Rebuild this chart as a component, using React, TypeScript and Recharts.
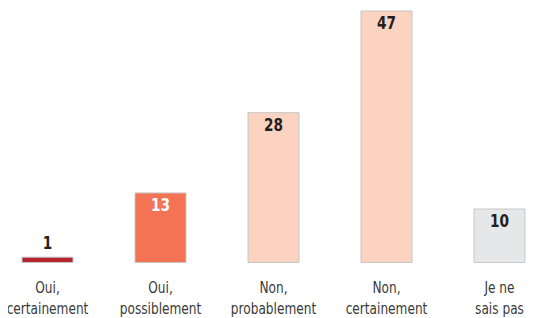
import React from "react";
import { BarChart, Bar, XAxis, YAxis, Cell, LabelList } from "recharts";

const categories = [
  "Oui,\ncertainement",
  "Oui,\npossiblement",
  "Non,\nprobablement",
  "Non,\ncertainement",
  "Je ne\nsais pas",
];
const values = [1, 13, 28, 47, 10];

const FILLS = ["#b3242f", "#f47355", "#fcd3c1", "#fcd3c1", "#e6e7e8"];
const LABEL_COLORS = ["#231f20", "#ffffff", "#231f20", "#231f20", "#231f20"];
const FONT = '"DejaVu Sans", sans-serif';
// the original font is a condensed face, squeeze DejaVu horizontally
const SQUEEZE = 0.76;

const data = categories.map((c, i) => ({ name: c, value: values[i] }));

// eslint-disable-next-line @typescript-eslint/no-explicit-any
const Tick = ({ x, y, payload }: any) => {
  const lines = String(payload.value).split("\n");
  return (
    <g transform={`translate(${x},${y + 2}) scale(${SQUEEZE},1)`}>
      <text x={0} y={0} textAnchor="middle" fill="#3a3a3a" fontSize={16} fontFamily={FONT}>
        {lines.map((l, i) => (
          <tspan key={i} x={0} dy={21}>
            {l}
          </tspan>
        ))}
      </text>
    </g>
  );
};

// eslint-disable-next-line @typescript-eslint/no-explicit-any
const ValueLabel = ({ x, y, width, height, value, index }: any) => {
  const inside = height > 20;
  const cx = x + width / 2;
  const cy = inside ? y + 12 : y - 14;
  return (
    <g transform={`translate(${cx},${cy}) scale(${SQUEEZE},1)`}>
      <text
        x={0}
        y={0}
        textAnchor="middle"
        dominantBaseline="central"
        fill={inside ? LABEL_COLORS[index] : "#231f20"}
        fontSize={18}
        fontWeight="bold"
        fontFamily={FONT}
      >
        {value}
      </text>
    </g>
  );
};

export default function App() {
  return (
    <div style={{ marginLeft: -17, marginTop: -8, width: 565, height: 318 }}>
      <BarChart
        width={565}
        height={318}
        data={data}
        margin={{ top: 11, right: 0, left: 0, bottom: 0 }}
        barSize={51}
      >
        <XAxis
          dataKey="name"
          axisLine={false}
          tickLine={false}
          interval={0}
          height={55.5}
          tick={<Tick />}
        />
        <YAxis hide domain={[0, 47]} />
        <Bar dataKey="value" isAnimationActive={false} stroke="#c6c6c6" strokeWidth={1}>
          {data.map((d, i) => (
            <Cell key={i} fill={FILLS[i]} />
          ))}
          <LabelList dataKey="value" content={<ValueLabel />} />
        </Bar>
      </BarChart>
    </div>
  );
}
